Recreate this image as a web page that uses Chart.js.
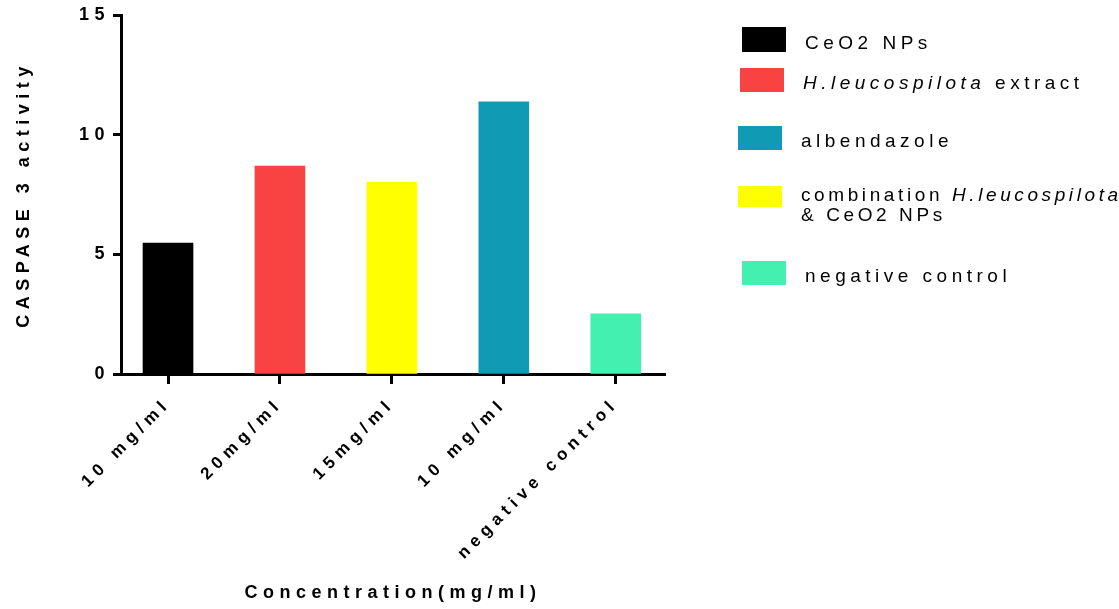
<!DOCTYPE html>
<html lang="en">
<head>
    <meta charset="UTF-8">
    <title>CASPASE 3 activity</title>
    <script src="https://cdn.jsdelivr.net/npm/chart.js"></script>
    <style>
        body { margin: 0; background: #fff; font-family: "Liberation Sans", Arial, sans-serif; }
        .wrap { position: relative; width: 1119px; height: 609px; }
        .swatch { position: absolute; width: 44px; }
        .legend-text { position: absolute; white-space: nowrap; font-size: 19px; letter-spacing: 4.5px; color: #000; line-height: 21px; }
    </style>
</head>
<body>
    <div class="wrap">
        <canvas id="chart" width="1119" height="609"></canvas>
        <div id="legend"></div>
    </div>
    <script>
        // data
        let categories = ["10 mg/ml", "20mg/ml", "15mg/ml", "10 mg/ml", "negative control"];
        let activity = [5.47, 8.69, 8.02, 11.37, 2.51];
        // bar order in the picture: black, red, yellow, teal, green
        let barFill = ["#000000", "#f94242", "#ffff00", "#119ab4", "#44f0b0"];
        let yTicks = [0, 5, 10, 15];
        let legendLabels = ["CeO2 NPs", "<i>H.leucospilota</i> extract", "albendazole",
            "combination <i>H.leucospilota</i><br>&amp; CeO2 NPs", "negative control"];
        let legendColors = ["#000000", "#f94242", "#119ab4", "#ffff00", "#44f0b0"];

        // legend (html so the italic parts stay italic)
        let legendPos = [
            { sx: 742, sy: 27, sh: 25, tx: 805, ty: 32, ls: 4.5, lh: 21 },
            { sx: 740, sy: 68, sh: 24, tx: 803, ty: 72, ls: 4.5, lh: 21 },
            { sx: 738, sy: 126, sh: 24, tx: 801, ty: 130, ls: 4.5, lh: 21 },
            { sx: 738, sy: 186, sh: 21, tx: 801, ty: 185, ls: 3.6, lh: 20 },
            { sx: 742, sy: 261, sh: 24, tx: 805, ty: 265, ls: 4.5, lh: 21 }
        ];
        let legend = document.getElementById("legend");
        legend.innerHTML = legendLabels.map((lab, i) => {
            let p = legendPos[i];
            return `<div class="swatch" style="left:${p.sx}px;top:${p.sy}px;height:${p.sh}px;background:${legendColors[i]}"></div>` +
                `<div class="legend-text" style="left:${p.tx}px;top:${p.ty}px;letter-spacing:${p.ls}px;line-height:${p.lh}px">${lab}</div>`;
        }).join("");

        // the original uses widely tracked lettering
        const spacing = {
            id: 'spacing',
            beforeUpdate(c) { c.ctx.letterSpacing = '5.5px'; },
            beforeLayout(c) { c.ctx.letterSpacing = '5.5px'; },
            beforeDraw(c) { c.ctx.letterSpacing = '5.5px'; }
        };

        let ctx = document.getElementById("chart").getContext("2d");
        new Chart(ctx, {
            type: 'bar',
            data: {
                datasets: [{
                    data: activity.map((v, i) => ({ x: i, y: v })),
                    backgroundColor: barFill,
                    borderWidth: 0,
                    barThickness: 50
                }]
            },
            plugins: [spacing],
            options: {
                responsive: false,
                animation: false,
                layout: { padding: { left: 0, right: 454, top: 15, bottom: 0 } },
                plugins: { legend: { display: false }, tooltip: { enabled: false } },
                scales: {
                    x: {
                        type: 'linear',
                        offset: false,
                        min: -0.42,
                        max: 4.44,
                        afterBuildTicks: s => { s.ticks = categories.map((c, i) => ({ value: i })); },
                        afterFit: s => { s.height = 235; },
                        border: { color: '#000', width: 3 },
                        grid: { offset: false, drawOnChartArea: false, tickLength: 10, tickWidth: 3, tickColor: '#000' },
                        ticks: {
                            autoSkip: false,
                            minRotation: 45,
                            maxRotation: 45,
                            padding: 10,
                            color: '#000',
                            font: { family: 'Liberation Sans', size: 17, weight: 'bold' },
                            callback: v => categories[v]
                        },
                        title: {
                            display: true,
                            text: 'Concentration(mg/ml)',
                            color: '#000',
                            padding: { top: 0, bottom: 5 },
                            font: { family: 'Liberation Sans', size: 18, weight: 'bold' }
                        }
                    },
                    y: {
                        min: 0,
                        max: 15,
                        afterBuildTicks: s => { s.ticks = yTicks.map(v => ({ value: v })); },
                        afterFit: s => { s.width = 121; },
                        border: { color: '#000', width: 3 },
                        grid: { drawOnChartArea: false, tickLength: 8, tickWidth: 3, tickColor: '#000' },
                        ticks: {
                            padding: 3,
                            color: '#000',
                            font: { family: 'Liberation Sans', size: 18, weight: 'bold' }
                        },
                        title: {
                            display: true,
                            text: 'CASPASE 3 activity',
                            color: '#000',
                            padding: { top: 13, bottom: 0 },
                            font: { family: 'Liberation Sans', size: 18, weight: 'bold' }
                        }
                    }
                }
            }
        });
    </script>
</body>
</html>
